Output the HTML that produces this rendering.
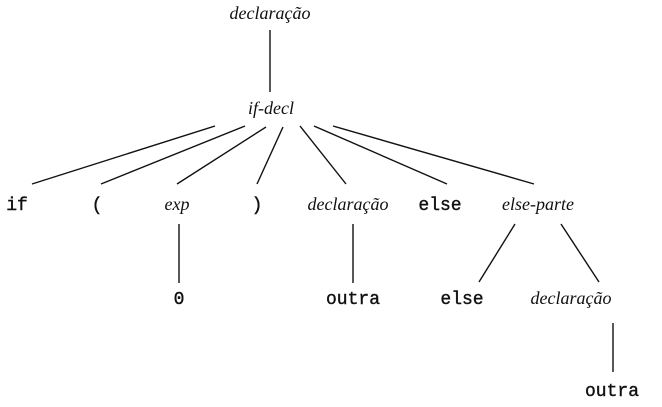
<!DOCTYPE html>
<html><head><meta charset="utf-8"><style>
html,body{margin:0;padding:0;background:#fff;}
svg{display:block;}
.it{font-family:"Liberation Serif",serif;font-style:italic;font-size:18px;fill:#111;}
.mo{font-family:"Liberation Mono",monospace;font-size:18px;fill:#111;stroke:#111;stroke-width:0.4;}
</style></head><body>
<svg width="662" height="407" viewBox="0 0 662 407" xmlns="http://www.w3.org/2000/svg">
<rect width="662" height="407" fill="#fff"/>
<g stroke="#111" stroke-width="1.4" fill="none">
<line x1="270" y1="30" x2="270" y2="92"/>
<line x1="215" y1="126" x2="32" y2="184"/>
<line x1="245" y1="126" x2="101" y2="184"/>
<line x1="266" y1="127" x2="177" y2="184"/>
<line x1="283" y1="127" x2="257" y2="184"/>
<line x1="300" y1="126" x2="346" y2="184"/>
<line x1="314" y1="126" x2="447" y2="184"/>
<line x1="333" y1="126" x2="534" y2="184"/>
<line x1="179" y1="224" x2="179" y2="283"/>
<line x1="353" y1="224" x2="353" y2="283"/>
<line x1="515" y1="224" x2="479" y2="282"/>
<line x1="561" y1="224" x2="599" y2="282"/>
<line x1="613" y1="323" x2="613" y2="372"/>
</g>
<text class="it" x="270" y="19" text-anchor="middle">declaração</text>
<text class="it" x="271" y="114" text-anchor="middle">if-decl</text>
<text class="mo" x="17" y="210" text-anchor="middle">if</text>
<text class="mo" x="97" y="210" text-anchor="middle">(</text>
<text class="it" x="177" y="210" text-anchor="middle">exp</text>
<text class="mo" x="257" y="210" text-anchor="middle">)</text>
<text class="it" x="348" y="210" text-anchor="middle">declaração</text>
<text class="mo" x="440" y="210" text-anchor="middle">else</text>
<text class="it" x="538" y="210" text-anchor="middle">else-parte</text>
<text class="mo" x="179" y="304" text-anchor="middle">0</text>
<text class="mo" x="353" y="304" text-anchor="middle">outra</text>
<text class="mo" x="462" y="304" text-anchor="middle">else</text>
<text class="it" x="571" y="304" text-anchor="middle">declaração</text>
<text class="mo" x="612" y="396" text-anchor="middle">outra</text>
</svg>
</body></html>
